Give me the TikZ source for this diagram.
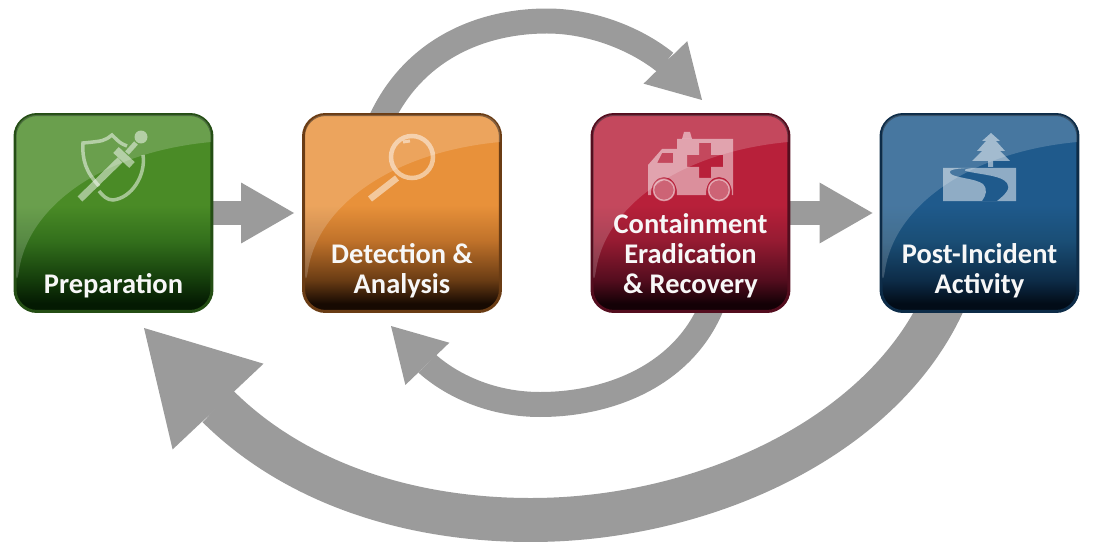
\documentclass[tikz,border=0pt]{standalone}
\usepackage{fontspec}
\setmainfont{Carlito}
\usetikzlibrary{positioning}
\usetikzlibrary{arrows.meta}
\usetikzlibrary{backgrounds}
\definecolor{flowgray}{HTML}{9B9B9B}
\definecolor{ga}{HTML}{4A8B26}\definecolor{gb}{HTML}{33701C}\definecolor{gc}{HTML}{143C0B}\definecolor{gd}{HTML}{041A02}
\definecolor{oa}{HTML}{E8913A}\definecolor{ob}{HTML}{C0722A}\definecolor{oc}{HTML}{6A3C14}\definecolor{od}{HTML}{170A02}
\definecolor{ra}{HTML}{B8203A}\definecolor{rb}{HTML}{961B32}\definecolor{rc}{HTML}{540D1E}\definecolor{rd}{HTML}{140106}
\definecolor{ba}{HTML}{1F5A8C}\definecolor{bb}{HTML}{1A4E76}\definecolor{bc}{HTML}{0D2C48}\definecolor{bd}{HTML}{020C18}
\pgfdeclareverticalshading{greenbox}{100bp}{color(0bp)=(gd); color(27bp)=(gd); color(33bp)=(gc); color(43bp)=(gb); color(52bp)=(ga); color(100bp)=(ga)}
\pgfdeclareverticalshading{orangebox}{100bp}{color(0bp)=(od); color(27bp)=(od); color(33bp)=(oc); color(43bp)=(ob); color(52bp)=(oa); color(100bp)=(oa)}
\pgfdeclareverticalshading{redbox}{100bp}{color(0bp)=(rd); color(27bp)=(rd); color(33bp)=(rc); color(43bp)=(rb); color(52bp)=(ra); color(100bp)=(ra)}
\pgfdeclareverticalshading{bluebox}{100bp}{color(0bp)=(bd); color(27bp)=(bd); color(33bp)=(bc); color(43bp)=(bb); color(52bp)=(ba); color(100bp)=(ba)}
\tikzset{
    stepn/.style = {rectangle, rounded corners=0.44cm, line width=0.06cm, minimum size=3.94cm},
    stepg/.style = {stepn, draw=gb!70!black, shading=greenbox},
    stepo/.style = {stepn, draw=oc, shading=orangebox},
    stepr/.style = {stepn, draw=rc, shading=redbox},
    stepb/.style = {stepn, draw=bc, shading=bluebox},
    steptext/.style = {align=center, inner sep=0pt, text=white!97!black, font=\bfseries\fontsize{16.2}{17}\selectfont},
    glossy/.style = {fill=white, opacity=0.18},
    iconf/.style = {fill=white, opacity=0.5, even odd rule},
    iconl/.style = {draw=white, opacity=0.5, line width=0.07cm},
    edgen/.style = {flowgray, line width=0.48cm, -{Triangle[length=1.06cm,width=1.22cm,line width=0pt]}},
    edgem/.style = {flowgray, line width=0.5cm, -{Triangle[length=1.05cm,width=1.22cm,line width=0pt]}},
    edgeb/.style = {flowgray, line width=0.88cm, -{Triangle[length=2.16cm,width=2.5cm,line width=0pt]}}
}
\begin{document}
\begin{tikzpicture}[x=0.02cm,y=-0.02cm]
  \useasboundingbox (0,0) rectangle (1106,554);

  \node[stepg] (prep) at (113.5,213) {};
  \node[stepo] (detect) at (402,213) {};
  \node[stepr] (contain) at (690.5,213) {};
  \node[stepb] (post) at (979.5,213) {};

  \foreach \x in {14,303,591,880}
    \fill[glossy] (\x+2,290) .. controls (\x+15,205) and (\x+90,152) .. (\x+197,142)
      [rounded corners=0.4cm] -- (\x+197,115) -- (\x+2,115) -- cycle;

  % sword and shield
  \draw[iconl] (127,146) .. controls (120,143) .. (112,135) .. controls (104,141) .. (83,143)
    .. controls (82,160) and (86,172) .. (99,186);
  \draw[iconl] (143,155) .. controls (146,175) and (132,198) .. (113,200) .. controls (107,200) and (103,196) .. (99,191);
  \draw[iconl, line width=0.14cm] (80,199) -- (120,160);
  \draw[iconl, line width=0.16cm] (116,150) -- (132,165);
  \draw[iconl, line width=0.1cm] (127,153) -- (136,143);
  \fill[iconf] (141,137) circle (0.13cm);

  % magnifier
  \draw[iconl, line width=0.09cm] (412,157) circle (0.42cm);
  \draw[iconl, line width=0.13cm] (397,178) -- (370,199);
  \draw[iconl, line width=0.06cm] (403,142) -- (410,141);

  % ambulance
  \fill[iconf] (684,132) -- (690,132) -- (692,139) -- (682,139) -- cycle;
  \fill[iconf] (677,139) -- (733,139) -- (733,195) -- (732,195) .. controls (733,171) and (705,171) .. (706,195)
    -- (677,195) .. controls (678,171) and (650,171) .. (651,195) -- (648,195) -- (648,165) -- (662,149) -- (677,149) -- cycle
    (662,153) -- (673,153) -- (673,163) -- (657,163) -- cycle
    (699,143) -- (711,143) -- (711,155) -- (723,155) -- (723,167) -- (711,167) -- (711,178) -- (699,178)
    -- (699,167) -- (687,167) -- (687,155) -- (699,155) -- cycle;
  \draw[iconl, line width=0.03cm, fill=white, fill opacity=0.3] (664,190) circle (0.21cm);
  \draw[iconl, line width=0.03cm, fill=white, fill opacity=0.3] (719,190) circle (0.21cm);

  % tree and river
  \fill[iconf] (991,133) -- (1000,141) -- (996,141) -- (1005,151) -- (1000,151) -- (1010,161) -- (993,161) -- (993,167)
    -- (988,167) -- (988,161) -- (972,161) -- (982,151) -- (977,151) -- (986,141) -- (982,141) -- cycle;
  \fill[iconf] (943,168) rectangle (1016,201)
    (975,168) .. controls (955,168) and (948,170) .. (950,173) .. controls (953,178) and (975,178) .. (983,184)
    .. controls (988,190) and (986,195) .. (982,201) -- (997,201) .. controls (1006,194) and (1011,188) .. (1007,183)
    .. controls (1002,176) and (985,175) .. (970,172) .. controls (960,170) and (965,169) .. (975,168) -- cycle;

  \node[steptext,above=0.3cm of prep.south] (prepl) {Preparation};
  \node[steptext,above=0.3cm of detect.south] (detectl) {Detection \&\\Analysis};
  \node[steptext,above=0.3cm of contain.south] (containl) {Containment\\Eradication\\\& Recovery};
  \node[steptext,above=0.3cm of post.south] (postl) {Post-Incident\\Activity};

  \coordinate (tiptop) at (702,100);
  \coordinate (tipmid) at (391,326);
  \coordinate (tipbig) at (144,328);

  \begin{scope}[on background layer]
    \draw[edgen] (prep.east) -- ([xshift=-0.16cm]detect.west);
    \draw[edgen] (contain.east) -- ([xshift=-0.14cm]post.west);
    \draw[edgem] ([shift={(-0.45cm,-0.2cm)}]detect.north) .. controls (412,50) and (480,21) .. (547,21)
      .. controls (590,21) and (635,38) .. (665.5,62.5) -- (tiptop);
    \draw[edgem] ([shift={(0.45cm,0.2cm)}]contain.south) .. controls (685,375) and (610,404.5) .. (540,404.5)
      .. controls (495,404.5) and (455,388) .. (427.5,364) -- (tipmid);
    \draw[edgeb] ([shift={(-0.73cm,0.2cm)}]post.south) .. controls (880,440) and (700,520) .. (531,520)
      .. controls (400,520) and (290,478) .. (218,406.5) -- (tipbig);
  \end{scope}
\end{tikzpicture}
\end{document}
